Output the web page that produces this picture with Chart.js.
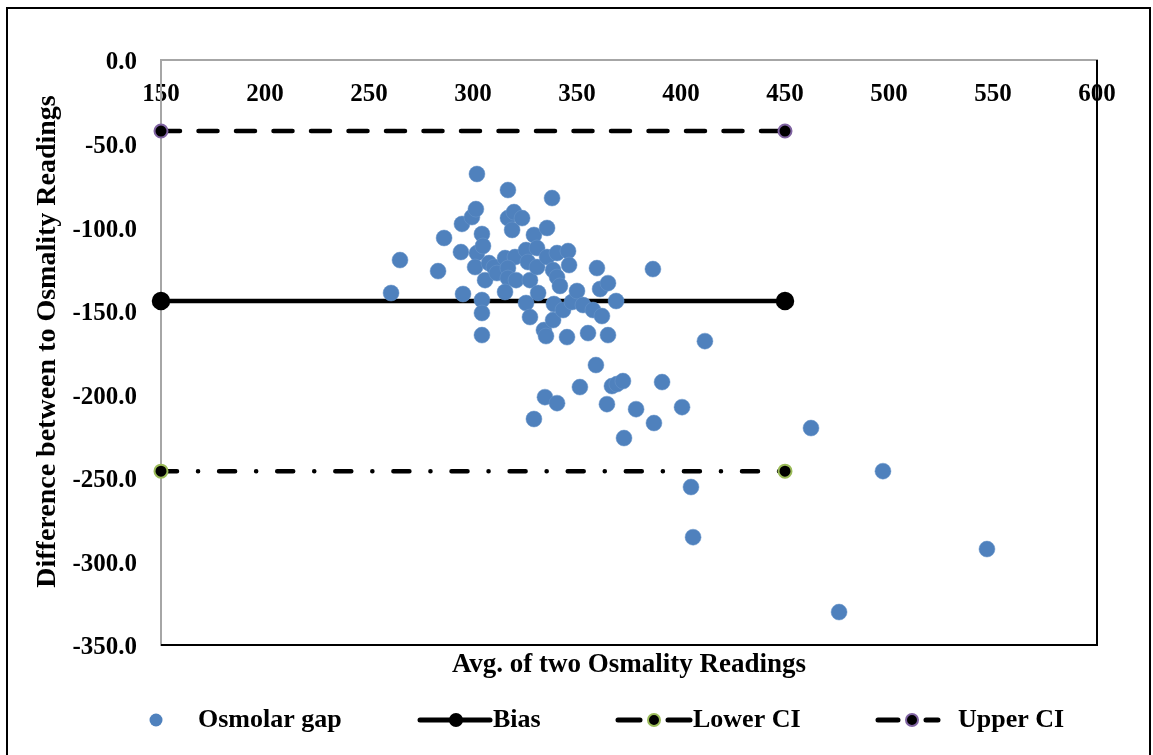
<!DOCTYPE html>
<html>
<head>
<meta charset="utf-8">
<title>Osmolar gap - Bland Altman</title>
<script src="https://cdn.jsdelivr.net/npm/chart.js@4.4.1/dist/chart.umd.min.js"></script>
<style>
  body { margin: 0; background: #fff; }
  canvas { display: block; }
</style>
</head>
<body>
<canvas id="chart" width="1153" height="755"></canvas>
<script>
// Data
const avgReadings = [
  260.6, 264.9, 283.2, 286.1, 294.7, 294.2, 295.2, 299.5, 301.4, 301.9,
  301.9, 301.0, 304.3, 304.8, 304.3, 304.3, 304.3, 305.8, 307.7, 310.1,
  311.5, 315.4, 316.8, 316.8, 318.8, 319.7, 320.2, 316.8, 316.8, 315.4,
  320.7, 323.6, 325.5, 326.4, 327.4, 325.5, 327.4, 329.3, 330.8, 330.8,
  331.3, 334.1, 335.1, 335.6, 335.6, 338.0, 340.4, 338.5, 340.4, 341.8,
  338.9, 338.5, 345.7, 346.2, 343.3, 345.2, 347.6, 350.0, 352.9, 355.3,
  357.7, 359.6, 361.1, 362.0, 364.9, 364.9, 368.8, 386.5, 411.5, 359.1,
  351.4, 334.6, 340.4, 329.3, 366.8, 369.2, 372.1, 390.9, 364.4, 378.4,
  387.0, 400.5, 372.6, 462.5, 497.1, 404.8, 405.8, 547.1, 476.0
];
const differences = [
  -139.4, -119.7, -126.3, -106.5, -98.1, -114.9, -140.0, -94.0, -89.2, -68.2,
  -115.5, -123.9, -104.1, -111.3, -143.6, -151.4, -164.6, -131.7, -121.5, -123.9,
  -127.5, -118.5, -77.8, -94.6, -101.7, -91.0, -117.9, -124.5, -130.5, -138.8,
  -131.7, -94.6, -113.7, -120.9, -131.7, -145.4, -153.8, -104.7, -112.5, -123.9,
  -139.4, -161.6, -165.2, -100.5, -117.9, -82.6, -115.5, -125.7, -129.9, -135.2,
  -146.0, -155.6, -114.3, -122.7, -149.6, -165.8, -144.8, -138.2, -146.6, -163.4,
  -149.6, -124.5, -137.0, -153.2, -133.5, -164.6, -144.2, -125.1, -168.2, -182.5,
  -195.7, -201.7, -205.3, -214.8, -195.1, -193.9, -192.1, -192.7, -205.9, -208.9,
  -217.2, -207.7, -226.2, -220.2, -246.0, -255.5, -285.5, -292.6, -330.3
];
const lineEnds = [150, 450];
const biasValue = -144.2;
const lowerCI = -246.0;
const upperCI = -42.5;
const xTicks = [150, 200, 250, 300, 350, 400, 450, 500, 550, 600];
const yTicks = [0, -50, -100, -150, -200, -250, -300, -350];

const FONT = "'Liberation Serif', 'Times New Roman', serif";
const blue = "#4F81BD";

function flatLine(value) {
  return lineEnds.map(x => ({ x: x, y: value }));
}

const scatterPoints = avgReadings.map((x, i) => ({ x: x, y: differences[i] }));

// Titles, legend and frames drawn by hand
const decorPlugin = {
  id: "decor",
  afterDraw(chart) {
    const ctx = chart.ctx;
    const area = chart.chartArea;
    ctx.save();

    // outer frame
    ctx.strokeStyle = "#000";
    ctx.lineWidth = 2;
    ctx.strokeRect(7, 8, 1143, 760);

    // plot frame right + bottom
    ctx.beginPath();
    ctx.moveTo(area.right, area.top);
    ctx.lineTo(area.right, area.bottom);
    ctx.lineTo(area.left, area.bottom);
    ctx.stroke();

    ctx.fillStyle = "#000";
    ctx.font = "bold 27px " + FONT;
    ctx.textAlign = "center";
    ctx.textBaseline = "middle";
    ctx.fillText("Avg. of two Osmality Readings", (area.left + area.right) / 2, 665);

    ctx.save();
    ctx.font = "bold 28px " + FONT;
    ctx.translate(48, (area.top + area.bottom) / 2 - 11);
    ctx.rotate(-Math.PI / 2);
    ctx.fillText("Difference between to Osmality Readings", 0, 0);
    ctx.restore();

    // legend
    const ds = chart.data.datasets;
    const ly = 720;
    ctx.font = "bold 26px " + FONT;
    ctx.textAlign = "left";

    ctx.fillStyle = blue;
    ctx.beginPath();
    ctx.arc(156, ly, 6.5, 0, Math.PI * 2);
    ctx.fill();
    ctx.fillStyle = "#000";
    ctx.fillText(ds[0].label, 198, ly);

    const items = [
      { d: ds[1], x0: 420, x1: 490, mx: 456, tx: 493 },
      { d: ds[2], x0: 618, x1: 690, mx: 654, tx: 693 },
      { d: ds[3], x0: 878, x1: 938, mx: 912, tx: 958 }
    ];
    items.forEach(it => {
      ctx.strokeStyle = "#000";
      ctx.lineWidth = 5;
      ctx.lineCap = "round";
      if (it.d.legendDash) {
        ctx.beginPath();
        ctx.moveTo(it.x0, ly); ctx.lineTo(it.mx - 14, ly);
        ctx.moveTo(it.mx + 14, ly); ctx.lineTo(it.x1, ly);
        ctx.stroke();
      } else {
        ctx.beginPath();
        ctx.moveTo(it.x0, ly); ctx.lineTo(it.x1, ly);
        ctx.stroke();
      }
      ctx.beginPath();
      ctx.arc(it.mx, ly, 6, 0, Math.PI * 2);
      ctx.fillStyle = "#000";
      ctx.fill();
      ctx.lineWidth = 2;
      ctx.strokeStyle = it.d.pointBorderColor;
      ctx.stroke();
      ctx.fillStyle = "#000";
      ctx.fillText(it.d.label, it.tx, ly);
    });

    ctx.restore();
  }
};

const chartCanvas = document.getElementById("chart");
const chartInstance = new Chart(chartCanvas, {
  type: "scatter",
  data: {
    datasets: [
      {
        label: "Osmolar gap",
        data: scatterPoints,
        backgroundColor: blue,
        borderColor: "#6A96CB",
        borderWidth: 0.5,
        pointRadius: 8,
        pointHoverRadius: 8
      },
      {
        label: "Bias",
        data: flatLine(biasValue),
        showLine: true,
        borderColor: "#000",
        borderWidth: 4.5,
        backgroundColor: "#000",
        pointBackgroundColor: "#000",
        pointBorderColor: "#000",
        pointRadius: 7,
        clip: false
      },
      {
        label: "Lower CI",
        data: flatLine(lowerCI),
        showLine: true,
        borderColor: "#000",
        borderWidth: 4.5,
        borderDash: [16, 21, 0.1, 21],
        borderCapStyle: "round",
        pointBackgroundColor: "#000",
        pointBorderColor: "#9BBB59",
        pointBorderWidth: 2,
        pointRadius: 6.5,
        legendDash: true,
        clip: false
      },
      {
        label: "Upper CI",
        data: flatLine(upperCI),
        showLine: true,
        borderColor: "#000",
        borderWidth: 4.5,
        borderDash: [19, 18.5],
        borderCapStyle: "round",
        pointBackgroundColor: "#000",
        pointBorderColor: "#8064A2",
        pointBorderWidth: 2,
        pointRadius: 6.5,
        legendDash: true,
        clip: false
      }
    ]
  },
  options: {
    responsive: false,
    animation: false,
    layout: { padding: { left: 0, top: 60, right: 56, bottom: 110 } },
    plugins: {
      legend: { display: false },
      tooltip: { enabled: false }
    },
    scales: {
      x: {
        type: "linear",
        position: { y: 0 },
        min: xTicks[0],
        max: xTicks[xTicks.length - 1],
        afterBuildTicks(scale) {
          scale.ticks = xTicks.map(v => ({ value: v }));
        },
        grid: { display: false, drawTicks: false },
        border: { color: "#A6A6A6", width: 2 },
        ticks: {
          padding: 20,
          color: "#000",
          maxRotation: 0,
          autoSkip: false,
          font: { family: FONT, size: 25, weight: "bold" }
        }
      },
      y: {
        type: "linear",
        position: "left",
        min: yTicks[yTicks.length - 1],
        max: yTicks[0],
        afterBuildTicks(scale) {
          scale.ticks = yTicks.map(v => ({ value: v }));
        },
        afterFit(scale) {
          scale.width = 161;
        },
        grid: { display: false, drawTicks: false },
        border: { color: "#A6A6A6", width: 2 },
        ticks: {
          padding: 24,
          labelOffset: 3,
          color: "#000",
          autoSkip: false,
          font: { family: FONT, size: 25, weight: "bold" },
          callback: v => Number(v).toFixed(1)
        }
      }
    }
  },
  plugins: [decorPlugin]
});
</script>
</body>
</html>
